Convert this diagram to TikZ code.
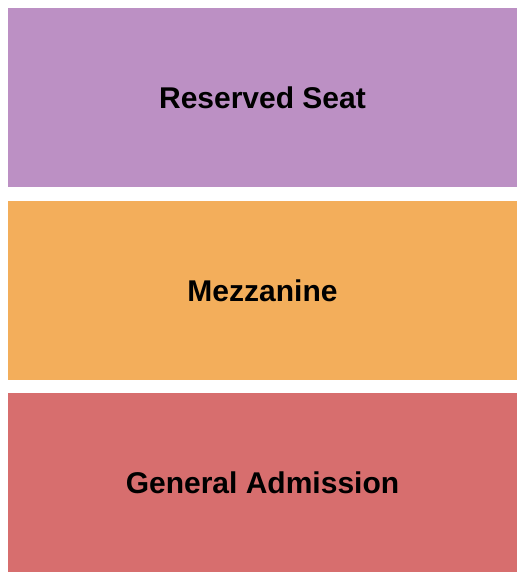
\documentclass[tikz,border=0pt]{standalone}
\usepackage{fontspec}
\setmainfont{Liberation Sans}
\definecolor{reserved}{HTML}{BC90C4}
\definecolor{mezz}{HTML}{F3AE5B}
\definecolor{general}{HTML}{D76E6E}
\begin{document}
\begin{tikzpicture}[x=1pt, y=-1pt,
    section/.style={inner sep=0pt, text=black, minimum width=509pt, minimum height=179pt,
        font=\fontsize{30}{34}\selectfont\bfseries}]
    % Ramka obrazka
    \useasboundingbox (0,0) rectangle (525,580);

    % Sektory
    \node[section, fill=reserved] (reserved) at (262.5,97.5) {Reserved Seat};
    \node[section, fill=mezz] (mezzanine) at (262.5,290.5) {Mezzanine};
    \node[section, fill=general] (general) at (262.5,482.5) {General Admission};
\end{tikzpicture}
\end{document}
